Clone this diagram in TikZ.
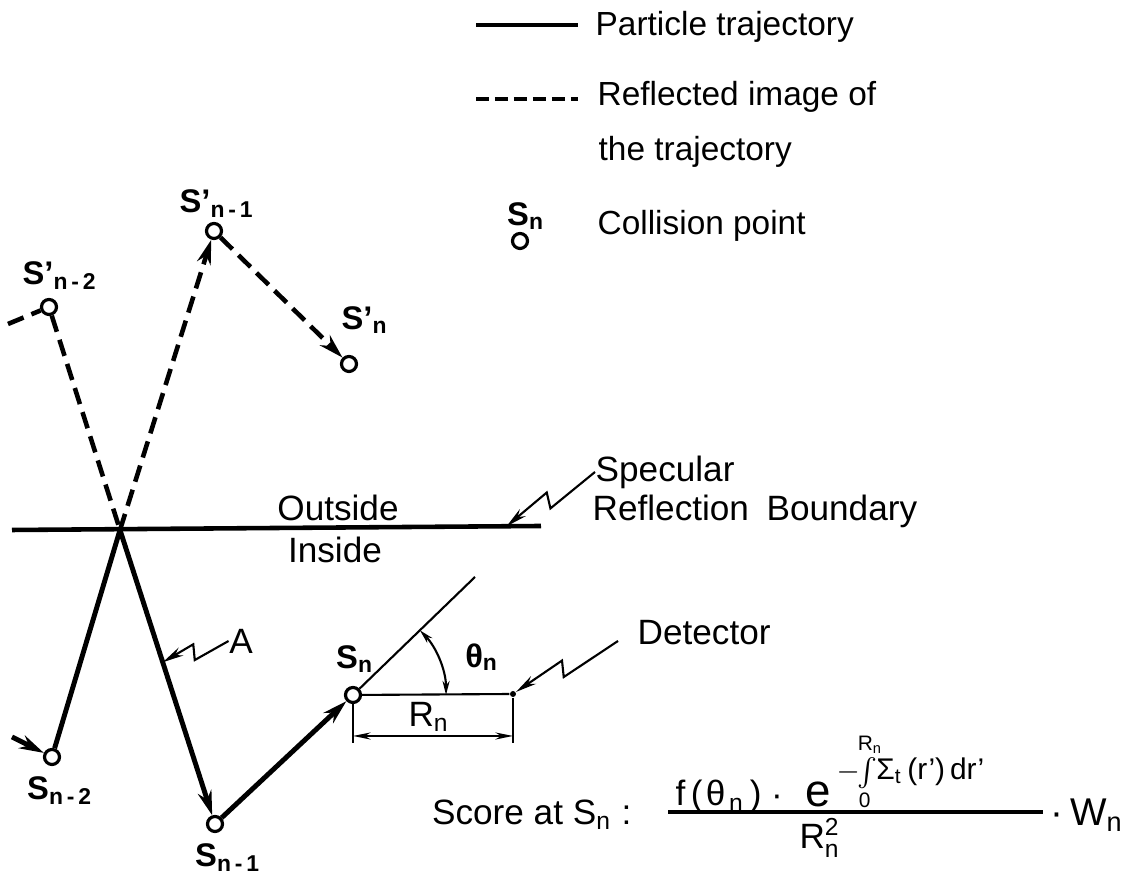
\documentclass[tikz,border=0pt]{standalone}
\usepackage{amsmath}
\usepackage{fontspec}
\setmainfont{Liberation Sans}
\usepackage{tikz}
\usetikzlibrary{arrows.meta}
\usetikzlibrary{calc}
\tikzset{
    traj/.style={line width=1.4pt},
    mirror/.style={line width=1.3pt, dash pattern=on 4.8pt off 2.4pt},
    thinline/.style={line width=0.6pt},
    collision/.style={circle, draw, fill=white, line width=0.9pt, minimum size=0.15cm, inner sep=0pt},
    lbl/.style={font=\fontsize{9.3}{11}\selectfont\bfseries, inner sep=0pt},
    legendtext/.style={font=\fontsize{9.5}{11}\selectfont, anchor=west, inner sep=0pt},
    note/.style={font=\fontsize{10}{12}\selectfont, inner sep=0pt}
}
\newcommand{\trajarrow}{\draw[traj, -{Stealth[length=7pt,width=4pt]}]}
\newcommand{\zigleader}[2]{\draw[thinline, -{Stealth[length=6pt,width=2.6pt]}] (#1) -- ($(#1)!0.55!(#2)!2.2pt!90:(#2)$) -- ($(#1)!0.5!(#2)!2.2pt!-90:(#2)$) -- (#2);}

\begin{document}
\begin{tikzpicture}[x=0.01cm, y=-0.01cm]
        \useasboundingbox (0,0) rectangle (1135,877);

        % Legend
        \coordinate (leg1a) at (476,25);
        \coordinate (leg1b) at (578,25);
        \coordinate (leg2a) at (476,99);
        \coordinate (leg2b) at (578,99);
        \draw[traj] (leg1a) -- (leg1b);
        \draw[line width=1.1pt, dash pattern=on 3.6pt off 1.8pt] (leg2a) -- (leg2b);
        \node[legendtext] (leg1) at (595,27) {Particle trajectory};
        \node[legendtext] (leg2) at (597,97) {Reflected image of};
        \node[legendtext] (leg3) at (598,152) {the trajectory};
        \node[lbl] (legs) at (526,216) {S\textsubscript{n}};
        \node[collision] (legc) at (520,241) {};
        \node[legendtext] (leg4) at (597,226) {Collision point};

        % Collision points
        \node[collision] (sp2) at (49,307) {};
        \node[collision] (sp1) at (214,231) {};
        \node[collision] (spn) at (349,364) {};
        \node[collision] (s2) at (52,757) {};
        \node[collision] (s1) at (215,824) {};
        \node[collision] (sn) at (353,695) {};
        \coordinate (refl) at (120,530);
        \coordinate (in0) at (12,737);
        \coordinate (out0) at (8,324);

        \node[lbl] (sp2lbl) at (60,276) {S'\textsubscript{n\,-\,2}};
        \node[lbl] (sp1lbl) at (217,204) {S'\textsubscript{n\,-\,1}};
        \node[lbl] (spnlbl) at (365,320) {S'\textsubscript{n}};
        \node[lbl] (s2lbl) at (60,791) {S\textsubscript{n\,-\,2}};
        \node[lbl] (s1lbl) at (228,858) {S\textsubscript{n\,-\,1}};
        \node[lbl] (snlbl) at (355,659) {S\textsubscript{n}};

        % Reflected image
        \draw[mirror] (out0) -- (sp2);
        \draw[mirror] (sp2) -- (refl);
        \draw[mirror, -{Stealth[length=7pt,width=4pt]}] (refl) -- (sp1);
        \draw[mirror, -{Stealth[length=7pt,width=4pt]}] (sp1) -- (spn);

        % Particle trajectory
        \trajarrow (in0) -- (s2);
        \draw[traj] (s2) -- (refl);
        \trajarrow (refl) -- (s1);
        \trajarrow (s1) -- (sn);

        % Boundary
        \coordinate (bl) at (12,530);
        \coordinate (br) at (541,526);
        \draw[line width=1.3pt] (bl) -- (br);
        \node[note] (outside) at (338,508) {Outside};
        \node[note] (inside) at (335,550) {Inside};
        \node[note, anchor=west] (spec1) at (595,472) {Specular};
        \node[note, anchor=west] (spec2) at (592,511) {Reflection\enspace Boundary};
        \coordinate (spectip) at ($(bl)!0.935!(br)$);
        \zigleader{spec1.west}{spectip}

        % Label A
        \node[note] (alab) at (241,641) {A};
        \coordinate (atip) at ($(refl)!0.45!(s1)$);
        \zigleader{alab.west}{atip}

        % Angle and detector
        \coordinate (ray) at (475,577);
        \node[circle, fill, inner sep=0pt, minimum size=0.06cm] (det) at (513,694) {};
        \draw[thinline] (sn) -- (ray);
        \draw[thinline] (sn) -- (det);
        \draw[thinline, {Stealth[length=4pt,width=2pt]}-{Stealth[length=4pt,width=2pt]}]
            ([shift={(44:0.93cm)}]sn.center) arc[start angle=44, end angle=0, radius=0.93cm];
        \node[lbl] (theta) at (482,657) {θ\textsubscript{n}};
        \node[note, anchor=west] (dettext) at (637,633) {Detector};
        \coordinate (detend) at (618,641);
        \zigleader{detend}{det}

        % Distance R_n
        \coordinate (tl) at (353,743);
        \coordinate (tr) at (513,743);
        \coordinate (dl) at (353,736);
        \coordinate (dr) at (513,736);
        \draw[thinline] (sn) -- (tl);
        \draw[thinline] (det) -- (tr);
        \draw[thinline, {Stealth[length=5pt,width=2pt]}-{Stealth[length=5pt,width=2pt]}] (dl) -- (dr);
        \node[note] (rn) at (429,717) {R\textsubscript{n}};

        % Score
        \node[note, anchor=east] (score) at (632,815) {Score at S\textsubscript{n} :};
        \node[note, anchor=base west] (num) at (675,806) {f\kern1.5pt(\kern1ptθ\kern1pt\textsubscript{n}\kern1.5pt)};
        \node[note] (dot) at (777,801) {·};
        \node[font=\fontsize{13}{14}\selectfont, inner sep=0pt, anchor=base] (ebase) at (818,807) {e};
        \node[font=\fontsize{8.5}{10}\selectfont, inner sep=0pt, anchor=west] (expo) at (836,772)
            {$-\!\!\int\limits_{\text{0}}^{\text{R\textsubscript{n}}}$\kern-1pt Σ\textsubscript{t}\,(r')\,dr'};
        \coordinate (bar1) at (668,812);
        \coordinate (bar2) at (1043,812);
        \draw[line width=0.9pt] (bar1) -- (bar2);
        \node[note, anchor=north] (den) at (820,818) {R$^{\text{2}}_{\text{n}}$};
        \node[font=\fontsize{11}{13}\selectfont, inner sep=0pt, anchor=west] (wn) at (1050,815) {·\,W\textsubscript{n}};
\end{tikzpicture}
\end{document}
